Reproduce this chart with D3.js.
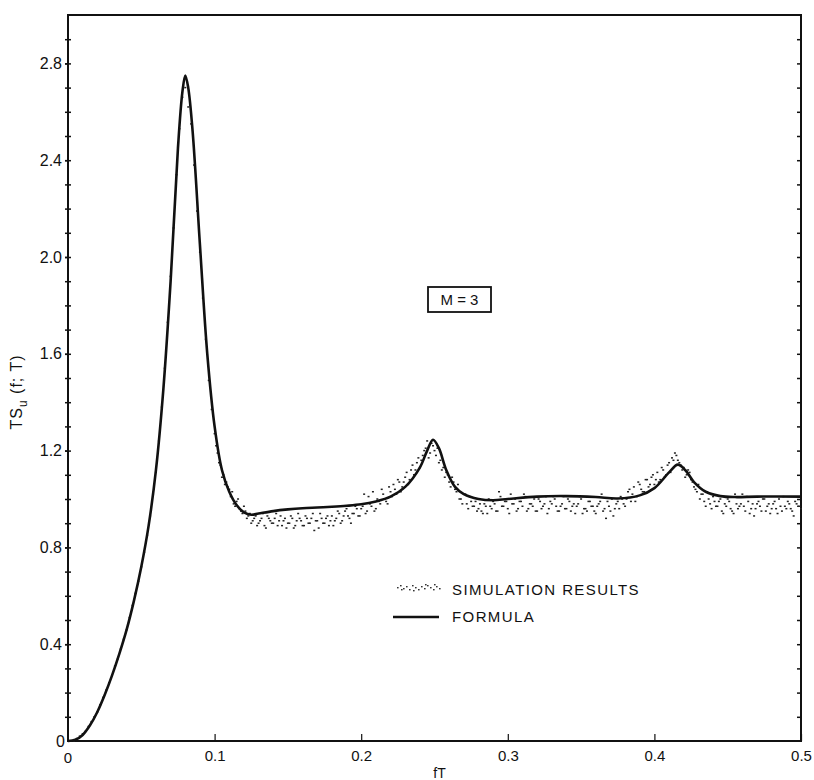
<!DOCTYPE html>
<html>
<head>
<meta charset="utf-8">
<script src="https://cdn.jsdelivr.net/npm/d3@7"></script>
<style>
  body { margin: 0; background: #fff; }
  svg { display: block; }
  text { font-family: "Liberation Sans", Arial, Helvetica, sans-serif; fill: #111; }
  .axis path, .axis line { stroke: #111; }
</style>
</head>
<body>
<div id="chart"></div>
<script>
// formula curve (fT, TSu)
var formulaF = [0, 0.005, 0.01, 0.015, 0.02, 0.025, 0.03, 0.035, 0.04, 0.045, 0.05, 0.055, 0.06, 0.065, 0.07, 0.075, 0.078, 0.08, 0.082, 0.085, 0.09, 0.095, 0.1, 0.105, 0.11, 0.115, 0.12, 0.125, 0.13, 0.14, 0.15, 0.16, 0.17, 0.18, 0.19, 0.2, 0.21, 0.22, 0.23, 0.24, 0.245, 0.249, 0.253, 0.258, 0.264, 0.27, 0.28, 0.29, 0.3, 0.32, 0.34, 0.36, 0.375, 0.39, 0.4, 0.41, 0.416, 0.421, 0.427, 0.435, 0.445, 0.455, 0.47, 0.5];
var formulaV = [0, 0.005, 0.025, 0.065, 0.12, 0.19, 0.27, 0.36, 0.46, 0.58, 0.72, 0.89, 1.12, 1.45, 1.9, 2.45, 2.68, 2.75, 2.7, 2.52, 2.05, 1.6, 1.3, 1.12, 1.03, 0.975, 0.945, 0.935, 0.94, 0.95, 0.957, 0.962, 0.965, 0.968, 0.972, 0.978, 0.99, 1.01, 1.05, 1.13, 1.2, 1.245, 1.21, 1.12, 1.05, 1.02, 1.0, 0.995, 1.0, 1.01, 1.012, 1.008, 1.002, 1.015, 1.045, 1.11, 1.142, 1.12, 1.07, 1.03, 1.012, 1.008, 1.01, 1.01];

// simulation results, one value every 0.002 in fT starting at 0.002
var simStep = 0.002;
var simValues = [
  0.00, 0.00, 0.01, 0.02, 0.03, 0.04, 0.06, 0.08, 0.10, 0.12,
  0.15, 0.18, 0.21, 0.24, 0.27, 0.31, 0.34, 0.38, 0.42, 0.46,
  0.51, 0.56, 0.61, 0.66, 0.72, 0.78, 0.85, 0.93, 1.02, 1.11,
  1.24, 1.38, 1.54, 1.73, 1.92, 2.12, 2.34, 2.53, 2.66, 2.70,
  2.62, 2.55, 2.38, 2.19, 2.02, 1.83, 1.66, 1.49, 1.37, 1.27,
  1.19, 1.14, 1.10, 1.07, 1.04, 1.03, 0.97, 1.00, 0.95, 0.97,
  0.92, 0.94, 0.91, 0.93, 0.90, 0.92, 0.89, 0.93, 0.91, 0.90,
  0.94, 0.91, 0.89, 0.92, 0.90, 0.93, 0.88, 0.91, 0.92, 0.89,
  0.93, 0.90, 0.92, 0.87, 0.91, 0.94, 0.90, 0.92, 0.89, 0.93,
  0.91, 0.95, 0.90, 0.93, 0.96, 0.92, 0.94, 0.97, 0.93, 0.96,
  1.02, 0.95, 0.98, 1.03, 0.96, 0.99, 1.04, 1.00, 0.98, 1.03,
  1.06, 1.02, 1.07, 1.05, 1.09, 1.06, 1.12, 1.10, 1.15, 1.13,
  1.18, 1.21, 1.17, 1.23, 1.20, 1.21, 1.16, 1.13, 1.11, 1.07,
  1.09, 1.04, 1.06, 1.00, 1.02, 0.98, 1.01, 0.97, 0.99, 0.96,
  0.95, 0.98, 0.94, 0.97, 0.99, 0.95, 1.03, 0.97, 0.99, 0.96,
  1.02, 0.98, 0.95, 0.99, 0.97, 1.01, 0.96, 0.98, 1.00, 0.95,
  0.99, 0.97, 1.01, 0.96, 0.98, 1.00, 0.95, 0.97, 1.01, 0.96,
  0.99, 0.97, 0.94, 0.98, 1.00, 0.96, 0.95, 0.99, 0.97, 0.94,
  0.98, 1.02, 0.96, 0.99, 0.95, 0.93, 0.98, 0.96, 1.00, 0.97,
  1.03, 0.99, 1.05, 1.01, 1.06, 1.03, 1.08, 1.05, 1.09, 1.06,
  1.11, 1.08, 1.12, 1.10, 1.15, 1.17, 1.19, 1.16, 1.14, 1.13,
  1.10, 1.11, 1.07, 1.04, 1.06, 1.02, 0.99, 1.03, 0.98, 1.01,
  0.97, 0.99, 0.95, 0.98, 1.00, 0.96, 0.94, 0.98, 0.97, 1.02,
  0.95, 0.99, 0.96, 0.93, 0.98, 0.97, 1.00, 0.95, 0.98, 0.96,
  0.99, 0.94, 0.97, 1.01, 0.96, 0.98, 0.95, 0.99, 0.97, 0.96
];

// second run of simulation points, between the first ones, from fT = 0.101
var simStartB = 0.101;
var simValuesB = [
  1.22, 1.15, 1.09, 1.06, 1.05, 1.01, 0.98, 0.99, 0.96, 0.94,
  0.95, 0.93, 0.90, 0.92, 0.89, 0.91, 0.94, 0.88, 0.92, 0.90,
  0.92, 0.89, 0.93, 0.91, 0.88, 0.90, 0.92, 0.89, 0.94, 0.91,
  0.89, 0.92, 0.90, 0.94, 0.91, 0.88, 0.92, 0.90, 0.93, 0.91,
  0.89, 0.92, 0.94, 0.91, 0.95, 0.93, 0.90, 0.94, 0.96, 0.93,
  0.97, 0.94, 1.01, 0.97, 0.95, 1.00, 0.98, 1.02, 0.99, 1.05,
  1.01, 1.04, 1.08, 1.03, 1.07, 1.11, 1.08, 1.14, 1.12, 1.17,
  1.16, 1.20, 1.24, 1.19, 1.22, 1.18, 1.15, 1.12, 1.09, 1.10,
  1.05, 1.07, 1.03, 1.00, 0.98, 1.02, 0.96, 0.99, 0.97, 0.95,
  0.98, 0.94, 0.97, 1.00, 0.96, 0.98, 0.95, 1.01, 0.97, 0.99,
  0.94, 0.98, 1.00, 0.96, 0.99, 1.02, 0.95, 0.98, 0.97, 0.95,
  1.00, 0.96, 0.98, 0.94, 0.99, 1.01, 0.97, 0.95, 0.98, 0.96,
  1.00, 0.95, 0.98, 0.97, 1.01, 0.94, 0.96, 0.99, 0.97, 0.95,
  0.97, 0.99, 0.95, 0.92, 0.97, 1.00, 0.96, 0.99, 1.01, 0.98,
  1.00, 1.04, 1.02, 0.99, 1.07, 1.04, 1.03, 1.08, 1.06, 1.10,
  1.08, 1.07, 1.13, 1.09, 1.14, 1.11, 1.16, 1.18, 1.15, 1.12,
  1.09, 1.12, 1.08, 1.05, 1.03, 1.00, 1.02, 0.97, 1.00, 0.96,
  0.99, 0.97, 1.00, 0.94, 0.97, 0.99, 0.95, 1.02, 0.96, 0.98,
  0.97, 1.01, 0.94, 0.98, 0.96, 0.99, 0.95, 1.00, 0.97, 0.94,
  0.98, 0.96, 1.00, 0.95, 0.97, 0.99, 0.96, 0.93, 0.98, 0.97
];

var xMajor = [0.1, 0.2, 0.3, 0.4, 0.5];
var yMajor = [0.4, 0.8, 1.2, 1.6, 2.0, 2.4, 2.8];
var yMinor = d3.range(1, 30).map(function(i){ return i / 10; });

var width = 814, height = 780;
var mLeft = 68, mRight = 801, mTop = 15, mBottom = 741;
var fontSz = 15;

var svg = d3.select("#chart").append("svg")
    .attr("width", width)
    .attr("height", height);

var x = d3.scaleLinear().domain([0, 0.5]).range([mLeft, mRight]);
var y = d3.scaleLinear().domain([0, 3]).range([mBottom, mTop]);

// frame
svg.append("rect")
    .attr("x", mLeft).attr("y", mTop)
    .attr("width", mRight - mLeft).attr("height", mBottom - mTop)
    .attr("fill", "none").attr("stroke", "#111").attr("stroke-width", 2);

// left axis: minor ticks both sides, labels every 0.4
var yl = svg.append("g").attr("class", "axis").attr("transform", "translate(" + mLeft + ",0)");
yl.call(d3.axisLeft(y).tickValues(yMinor).tickSize(3).tickFormat(""));
var yl2 = svg.append("g").attr("class", "axis").attr("transform", "translate(" + mLeft + ",0)");
yl2.call(d3.axisLeft(y).tickValues(yMinor).tickSize(-3).tickFormat(""));
var yl3 = svg.append("g").attr("class", "axis").attr("transform", "translate(" + mLeft + ",0)");
yl3.call(d3.axisLeft(y).tickValues(yMajor).tickSize(3).tickPadding(3).tickFormat(d3.format(".1f")));
svg.selectAll(".axis .domain").remove();
svg.selectAll(".axis line").attr("stroke-width", 1.5);
yl3.selectAll("text").attr("font-size", fontSz + 1).attr("fill", "#111")
    .style("font-family", "'Liberation Sans', Arial, sans-serif");

// right axis, ticks pointing in
var yr = svg.append("g").attr("class", "axis").attr("transform", "translate(" + mRight + ",0)");
yr.call(d3.axisRight(y).tickValues(yMinor).tickSize(-4).tickFormat(""));
yr.select(".domain").remove();
yr.selectAll("line").attr("stroke-width", 1.5);

// bottom axis, ticks pointing up
var xb = svg.append("g").attr("class", "axis").attr("transform", "translate(0," + mBottom + ")");
xb.call(d3.axisBottom(x).tickValues(xMajor).tickSizeInner(-7).tickSizeOuter(0).tickPadding(9).tickFormat(d3.format(".1f")));
xb.select(".domain").remove();
xb.selectAll("line").attr("stroke-width", 1.2);
xb.selectAll("text").attr("font-size", fontSz).attr("fill", "#111")
    .style("font-family", "'Liberation Sans', Arial, sans-serif");

// zero labels
svg.append("text").attr("x", mLeft - 3).attr("y", y(0)).attr("dy", "0.35em")
    .attr("text-anchor", "end").attr("font-size", fontSz + 1).text("0");
svg.append("text").attr("x", x(0)).attr("y", mBottom + 11).attr("dy", "0.71em")
    .attr("text-anchor", "middle").attr("font-size", fontSz).text("0");

// axis titles
svg.append("text").attr("x", x(0.25) + 5).attr("y", 778)
    .attr("text-anchor", "middle").attr("font-size", 14).text("fT");

var yt = svg.append("text")
    .attr("transform", "translate(22," + 392 + ") rotate(-90)")
    .attr("text-anchor", "middle").attr("font-size", 16).attr("letter-spacing", 1);
yt.append("tspan").text("TS");
yt.append("tspan").attr("font-size", 12).attr("dy", 5).text("u");
yt.append("tspan").attr("dy", -5).text(" (f; T)");

// simulation dots
var dots = simValues.map(function(v, i){ return [(i + 1) * simStep, v]; })
    .concat(simValuesB.map(function(v, i){ return [simStartB + i * simStep, v]; }));

svg.append("g").selectAll("rect")
    .data(dots)
    .join("rect")
    .attr("x", function(d){ return x(d[0]) - 1; })
    .attr("y", function(d){ return y(d[1]) - 0.75; })
    .attr("width", 2)
    .attr("height", 1.5)
    .attr("fill", "#222");

// formula curve
var line = d3.line()
    .x(function(d){ return x(d[0]); })
    .y(function(d){ return y(d[1]); })
    .curve(d3.curveCatmullRom.alpha(0.5));

svg.append("path")
    .datum(formulaF.map(function(f, i){ return [f, formulaV[i]]; }))
    .attr("d", line)
    .attr("fill", "none")
    .attr("stroke", "#111")
    .attr("stroke-width", 2.6)
    .attr("stroke-linejoin", "round");

// M = 3 box
svg.append("rect").attr("x", 428).attr("y", 287).attr("width", 63).attr("height", 25)
    .attr("fill", "#fff").attr("stroke", "#111").attr("stroke-width", 1.8);
svg.append("text").attr("x", 459.5).attr("y", 300).attr("dy", "0.36em")
    .attr("text-anchor", "middle").attr("font-size", fontSz).text("M = 3");

// legend
var legendDots = [[0, 0], [3, -2], [6, 1], [9, -1], [12, 2], [15, -2], [18, 0], [21, 2], [24, -1], [27, 1], [30, -2], [33, 0], [36, 2], [39, -1], [42, 1], [4, 2], [16, 3], [28, -3], [37, -3]];
svg.append("g").selectAll("rect")
    .data(legendDots)
    .join("rect")
    .attr("x", function(d){ return 397 + d[0]; })
    .attr("y", function(d){ return 587 + d[1]; })
    .attr("width", 1.6).attr("height", 1.4)
    .attr("fill", "#333");
svg.append("line").attr("x1", 393).attr("x2", 439).attr("y1", 617).attr("y2", 617)
    .attr("stroke", "#111").attr("stroke-width", 2.4);
svg.append("text").attr("x", 452).attr("y", 595).attr("font-size", fontSz)
    .attr("letter-spacing", 1.4).text("SIMULATION RESULTS");
svg.append("text").attr("x", 452).attr("y", 622).attr("font-size", fontSz)
    .attr("letter-spacing", 1.4).text("FORMULA");
</script>
</body>
</html>
